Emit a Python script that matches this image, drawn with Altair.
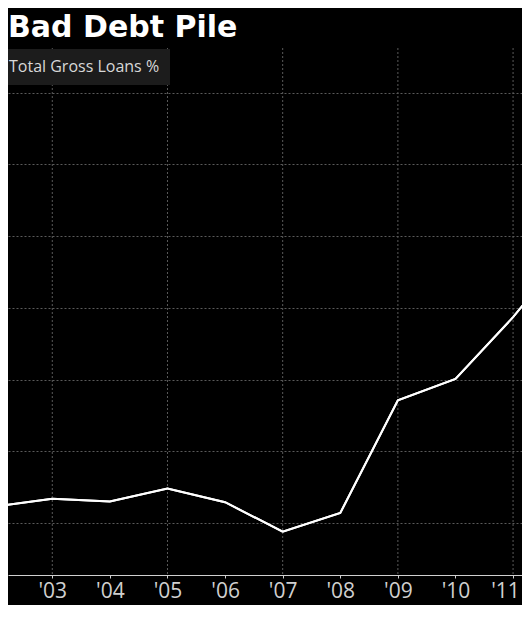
import altair as alt
import pandas as pd

# ---- data ----
years = [2002, 2003, 2004, 2005, 2006, 2007, 2008, 2009, 2010, 2011, 2012]
bad_loans_pct = [6.46, 6.68, 6.60, 6.96, 6.58, 5.76, 6.28, 9.42, 10.02, 11.74, 13.7]
series_name = "Total Gross Loans %"
tick_years = [2002, 2003, 2004, 2005, 2006, 2007, 2008, 2009, 2010, 2011]
grid_years = [2003, 2005, 2007, 2009, 2011]
y_grid_values = [6, 8, 10, 12, 14, 16, 18]
x_domain = [2002.231, 2011.155]
y_domain = [4.551, 19.245]

df = pd.DataFrame({"year": years, "value": bad_loans_pct, "series": [series_name] * len(years)})
grid_df = pd.DataFrame({"year": grid_years})

FONT = "Open Sans"

x_scale = alt.Scale(domain=x_domain, nice=False, zero=False)
y_scale = alt.Scale(domain=y_domain, nice=False, zero=False)

x_axis = alt.Axis(
    values=tick_years,
    labelExpr="\"'\" + substring(toString(datum.value), 2)",
    title=None,
    grid=False,
    domainColor="#d0d0d0",
    tickColor="#d0d0d0",
    tickSize=3,
    labelPadding=2,
    labelFont=FONT,
    labelFontSize=21,
    labelColor="#d0d0d0",
    labelFlush=False,
    labelOverlap=False,
    labelOffset=alt.condition("datum.value == 2011", alt.value(-8), alt.value(0)),
)

line = alt.Chart(df).mark_line(strokeWidth=2, clip=True).encode(
    x=alt.X("year:Q", scale=x_scale, axis=x_axis),
    y=alt.Y(
        "value:Q",
        scale=y_scale,
        axis=alt.Axis(
            values=y_grid_values,
            labels=False,
            ticks=False,
            domain=False,
            title=None,
            grid=True,
            gridColor="#5a5a5a",
            gridDash=[2, 2],
            gridWidth=1,
        ),
    ),
    color=alt.Color(
        "series:N",
        scale=alt.Scale(range=["#ffffff"]),
        legend=alt.Legend(
            title=None,
            orient="none",
            legendX=-25,
            legendY=1,
            fillColor="#1c1c1c",
            padding=10,
            labelFont=FONT,
            labelFontSize=16,
            labelColor="#d8d8d8",
            labelOffset=0,
            symbolSize=0,
            symbolStrokeWidth=0,
            symbolOpacity=0,
        ),
    ),
)

vgrid = alt.Chart(grid_df).mark_rule(
    color="#5a5a5a", strokeWidth=1, strokeDash=[2, 2]
).encode(
    x=alt.X("year:Q", scale=x_scale, axis=x_axis)
)

chart = alt.layer(line, vgrid, line.encode()).properties(
    width=514,
    height=527,
    autosize=alt.AutoSizeParams(type="none"),
    padding={"left": 0, "right": 0, "top": 40, "bottom": 30},
    title=alt.TitleParams(
        "Bad Debt Pile",
        anchor="start",
        frame="group",
        font="DejaVu Sans",
        fontSize=30,
        fontWeight="bold",
        color="#ffffff",
        offset=5,
    ),
).configure(
    background="#000000"
).configure_view(
    stroke=None
)

chart.save("out.html", embed_options={"renderer": "svg", "actions": False})
